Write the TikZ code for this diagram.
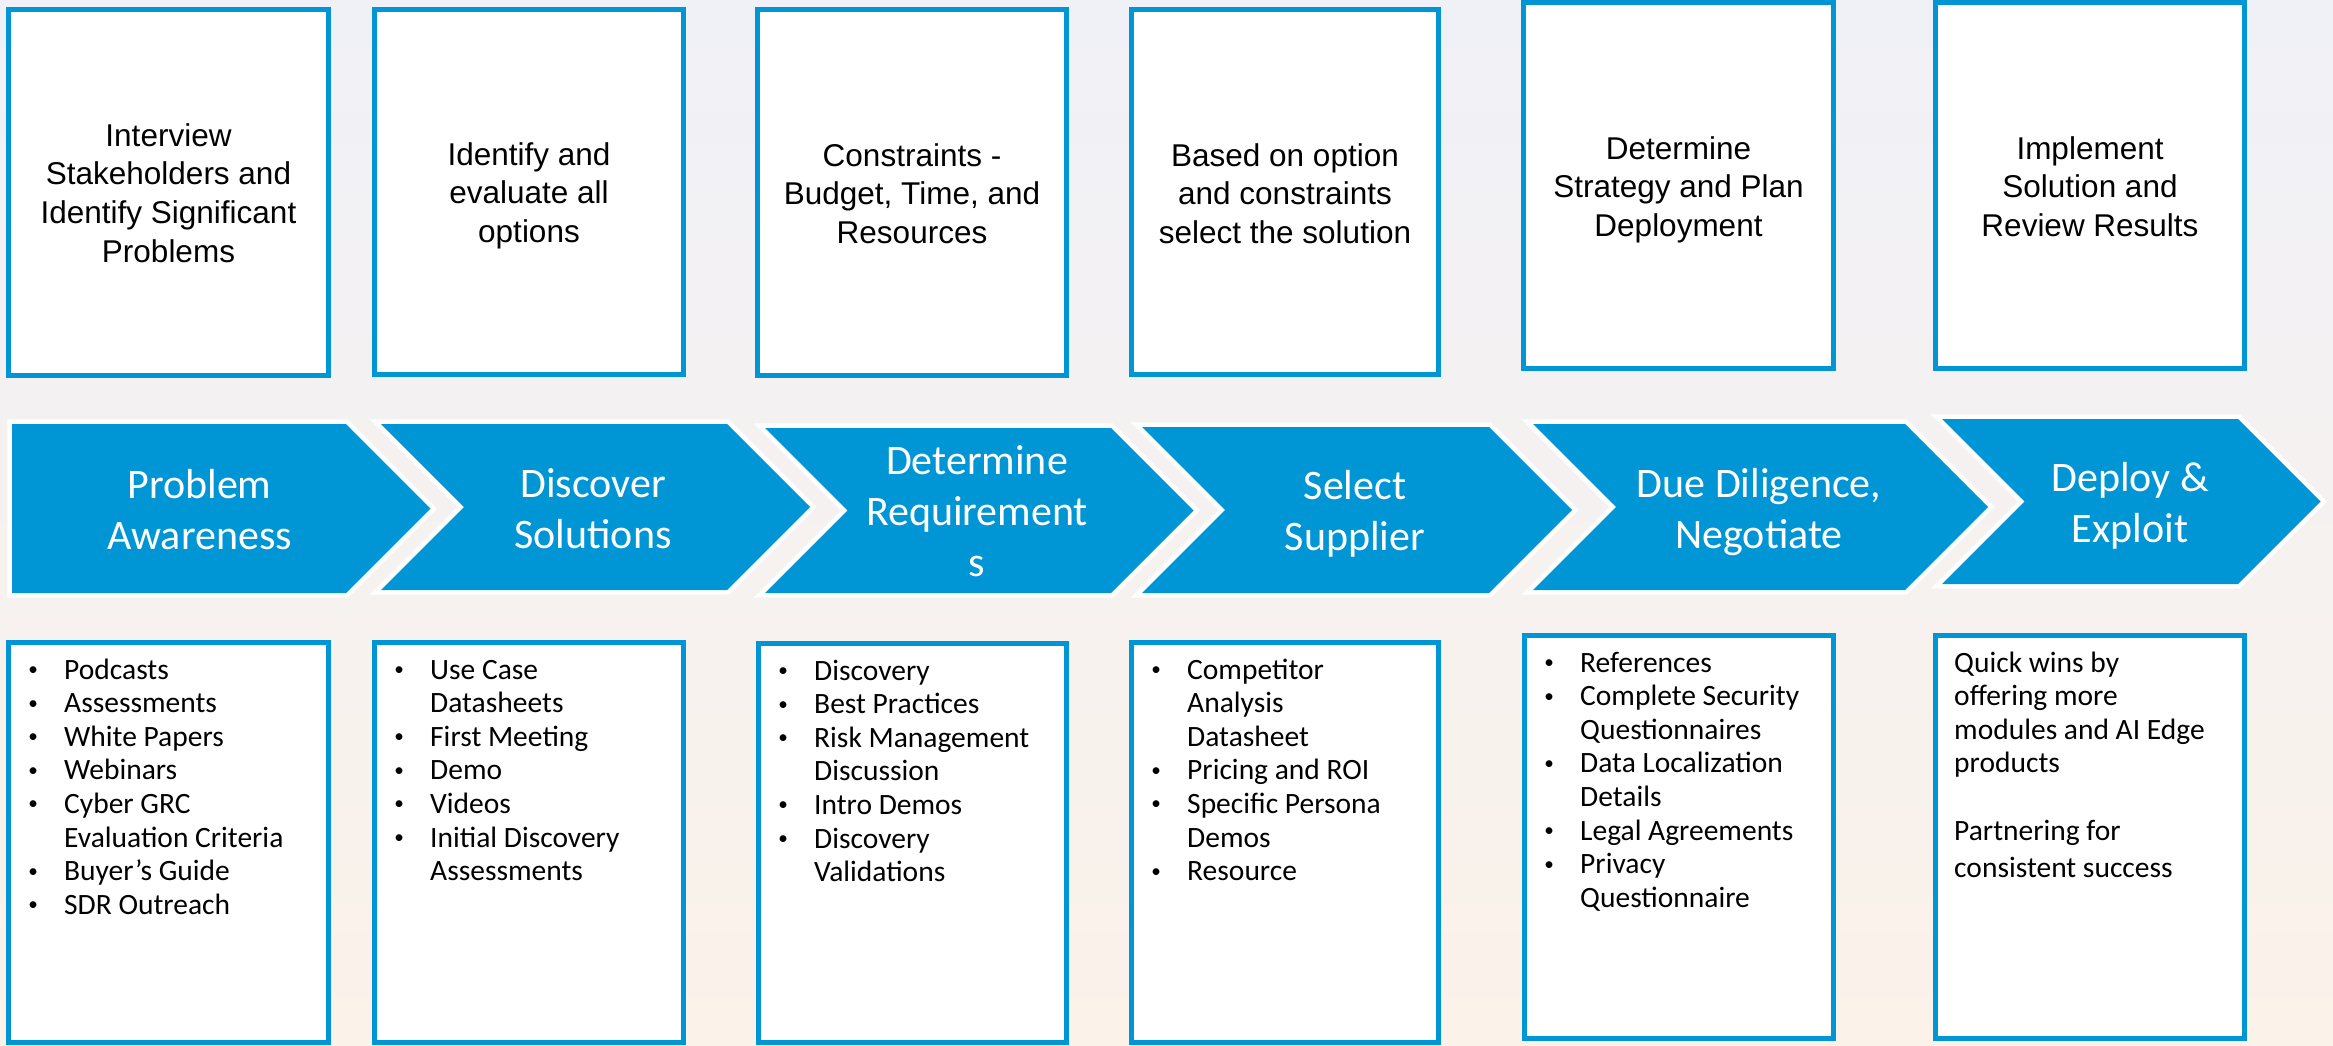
\documentclass[tikz,border=0pt]{standalone}
\usepackage{fontspec}
\usepackage{graphicx}
\setmainfont{Carlito}
\newfontfamily\topfont{Liberation Sans}
\definecolor{cblue}{RGB}{0,150,214}
\definecolor{bgtop}{RGB}{240,241,247}
\definecolor{bgbot}{RGB}{251,242,233}
\newcommand{\bl}{\makebox[0pt][c]{\raisebox{0.12em}{\scalebox{0.65}{•}}}\hspace{31pt}}
\newcommand{\cn}{\hspace{31pt}}
\tikzset{
 boxline/.style={draw=cblue, line width=5pt, fill=white},
 chevedge/.style={draw=white, line width=9.4pt, line join=miter},
 chevfill/.style={fill=cblue},
 toptext/.style={anchor=base, inner sep=0pt, font=\topfont\fontsize{31.5}{38.7}\selectfont},
 chevtext/.style={anchor=base, inner sep=0pt, text=white, font=\fontsize{42}{51}\selectfont},
 listtext/.style={anchor=base west, inner sep=0pt, font=\fontsize{29.5}{33.6}\selectfont},
}
\begin{document}
\begin{tikzpicture}[x=1pt,y=-1pt]
\useasboundingbox (0,0) rectangle (2333,1045);
\shade[top color=bgtop, bottom color=bgbot] (0,0) rectangle (2333,1045);

% top boxes
\draw[boxline] (8.5,9.5) rectangle (328.5,375.5);
\draw[boxline] (374.5,9.5) rectangle (683.5,374.5);
\draw[boxline] (757.5,9.5) rectangle (1066.5,375.5);
\draw[boxline] (1131.5,9.5) rectangle (1438.5,374.5);
\draw[boxline] (1523.5,2.5) rectangle (1833.5,368.5);
\draw[boxline] (1935.5,2.5) rectangle (2244.5,368.5);

\node[toptext] (t1) at (168.5,146) {\begin{tabular}[t]{@{}c@{}}Interview\\Stakeholders and\\Identify Significant\\Problems\end{tabular}};
\node[toptext] (t2) at (529,165) {\begin{tabular}[t]{@{}c@{}}Identify and\\evaluate all\\options\end{tabular}};
\node[toptext] (t3) at (912,166) {\begin{tabular}[t]{@{}c@{}}Constraints -\\Budget, Time, and\\Resources\end{tabular}};
\node[toptext] (t4) at (1285,166) {\begin{tabular}[t]{@{}c@{}}Based on option\\and constraints\\select the solution\end{tabular}};
\node[toptext] (t5) at (1678.5,159) {\begin{tabular}[t]{@{}c@{}}Determine\\Strategy and Plan\\Deployment\end{tabular}};
\node[toptext] (t6) at (2090,159) {\begin{tabular}[t]{@{}c@{}}Implement\\Solution and\\Review Results\end{tabular}};

% chevrons: white edges
\draw[chevedge] (12,424) -- (346,424) -- (430.5,508.5) -- (346,593) -- (12,593) -- cycle;
\draw[chevedge] (381,424) -- (727,424) -- (810,507) -- (727,590) -- (381,590) -- (464,507) -- cycle;
\draw[chevedge] (765,428) -- (1111,428) -- (1193.5,510.5) -- (1111,593) -- (765,593) -- (847.5,510.5) -- cycle;
\draw[chevedge] (1142,427) -- (1489,427) -- (1572,510) -- (1489,593) -- (1142,593) -- (1225,510) -- cycle;
\draw[chevedge] (1533,424) -- (1905,424) -- (1988,507) -- (1905,590) -- (1533,590) -- (1616,507) -- cycle;
\draw[chevedge] (1942,419) -- (2238,419) -- (2320.5,501.5) -- (2238,584) -- (1942,584) -- (2024.5,501.5) -- cycle;
% chevrons: fills
\fill[chevfill] (12,424) -- (346,424) -- (430.5,508.5) -- (346,593) -- (12,593) -- cycle;
\fill[chevfill] (381,424) -- (727,424) -- (810,507) -- (727,590) -- (381,590) -- (464,507) -- cycle;
\fill[chevfill] (765,428) -- (1111,428) -- (1193.5,510.5) -- (1111,593) -- (765,593) -- (847.5,510.5) -- cycle;
\fill[chevfill] (1142,427) -- (1489,427) -- (1572,510) -- (1489,593) -- (1142,593) -- (1225,510) -- cycle;
\fill[chevfill] (1533,424) -- (1905,424) -- (1988,507) -- (1905,590) -- (1533,590) -- (1616,507) -- cycle;
\fill[chevfill] (1942,419) -- (2238,419) -- (2320.5,501.5) -- (2238,584) -- (1942,584) -- (2024.5,501.5) -- cycle;

\node[chevtext] (c1) at (199.5,498) {\begin{tabular}[t]{@{}c@{}}Problem\\Awareness\end{tabular}};
\node[chevtext] (c2) at (593,497) {\begin{tabular}[t]{@{}c@{}}Discover\\Solutions\end{tabular}};
\node[chevtext] (c3) at (977,474) {\begin{tabular}[t]{@{}c@{}}Determine\\Requirement\\s\end{tabular}};
\node[chevtext] (c4) at (1355,499) {\begin{tabular}[t]{@{}c@{}}Select\\Supplier\end{tabular}};
\node[chevtext] (c5) at (1759,497) {\begin{tabular}[t]{@{}c@{}}Due Diligence,\\Negotiate\end{tabular}};
\node[chevtext] (c6) at (2130,491) {\begin{tabular}[t]{@{}c@{}}Deploy \&\\Exploit\end{tabular}};

% bottom boxes
\draw[boxline] (8.5,642.5) rectangle (328.5,1042.5);
\draw[boxline] (374.5,642.5) rectangle (683.5,1042.5);
\draw[boxline] (758.5,643.5) rectangle (1066.5,1042.5);
\draw[boxline] (1131.5,642.5) rectangle (1438.5,1042.5);
\draw[boxline] (1524.5,635.5) rectangle (1833.5,1038.5);
\draw[boxline] (1935.5,635.5) rectangle (2244.5,1038.5);

\node[listtext] (l1) at (33,679) {\begin{tabular}[t]{@{}l@{}}\bl Podcasts\\\bl Assessments\\\bl White Papers\\\bl Webinars\\\bl Cyber GRC\\\cn Evaluation Criteria\\\bl Buyer’s Guide\\\bl SDR Outreach\end{tabular}};
\node[listtext] (l2) at (399,679) {\begin{tabular}[t]{@{}l@{}}\bl Use Case\\\cn Datasheets\\\bl First Meeting\\\bl Demo\\\bl Videos\\\bl Initial Discovery\\\cn Assessments\end{tabular}};
\node[listtext] (l3) at (783,680) {\begin{tabular}[t]{@{}l@{}}\bl Discovery\\\bl Best Practices\\\bl Risk Management\\\cn Discussion\\\bl Intro Demos\\\bl Discovery\\\cn Validations\end{tabular}};
\node[listtext] (l4) at (1156,679) {\begin{tabular}[t]{@{}l@{}}\bl Competitor\\\cn Analysis\\\cn Datasheet\\\bl Pricing and ROI\\\bl Specific Persona\\\cn Demos\\\bl Resource\end{tabular}};
\node[listtext] (l5) at (1549,672) {\begin{tabular}[t]{@{}l@{}}\bl References\\\bl Complete Security\\\cn Questionnaires\\\bl Data Localization\\\cn Details\\\bl Legal Agreements\\\bl Privacy\\\cn Questionnaire\end{tabular}};
\node[listtext] (l6) at (1954,672) {\begin{tabular}[t]{@{}l@{}}Quick wins by\\offering more\\modules and AI Edge\\products\\ \\Partnering for\\[3.4pt]consistent success\end{tabular}};
\end{tikzpicture}
\end{document}
